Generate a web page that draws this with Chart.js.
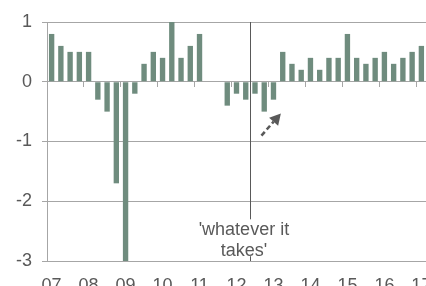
<!DOCTYPE html>
<html><head><meta charset="utf-8">
<script src="https://cdn.jsdelivr.net/npm/chart.js@4/dist/chart.umd.min.js"></script>
<style>
html,body{margin:0;padding:0;overflow:hidden;background:#fff;width:426px;height:286px}
#wrap{position:relative;width:440px;height:286px}
</style>
</head><body>
<div id="wrap"><canvas id="c" width="440" height="286"></canvas></div>
<script>
// ---- data ----
const years = ['07','08','09','10','11','12','13','14','15','16','17'];
const quarterLabels = years.flatMap(y => [y + ' Q1', y + ' Q2', y + ' Q3', y + ' Q4']).slice(0, 41);
const growth = [
  0.8, 0.6, 0.5, 0.5,      // 2007
  0.5, -0.3, -0.5, -1.7,   // 2008
  -3.0, -0.2, 0.3, 0.5,    // 2009
  0.4, 1.0, 0.4, 0.6,      // 2010
  0.8, null, null, -0.4,   // 2011
  -0.2, -0.3, -0.2, -0.5,  // 2012
  -0.3, 0.5, 0.3, 0.2,     // 2013
  0.4, 0.2, 0.4, 0.4,      // 2014
  0.8, 0.4, 0.3, 0.4,      // 2015
  0.5, 0.3, 0.4, 0.5,      // 2016
  0.6                      // 2017
];
const eventIndex = 22;              // 2012 Q3
const annotationText = ["'whatever it", "takes'"];
const annotationX = 20.8;           // category position of text centre
const annotationY = [-2.57, -2.92]; // baselines (value units)
const arrowFrom = [22.7, -0.9];
const arrowTo = [24.8, -0.53];

const TEXT = '#595959';
const GRID = '#a6a6a6';
const FONT = {family: '"Liberation Sans", Arial, sans-serif', size: 18};

const annotationPlugin = {
  id: 'annot',
  afterDatasetsDraw(chart) {
    const ctx = chart.ctx, xs = chart.scales.x, ys = chart.scales.y, area = chart.chartArea;
    const half = (xs.getPixelForValue(1) - xs.getPixelForValue(0)) / 2;
    const lx = Math.round(xs.getPixelForValue(eventIndex) - half) + 0.5;
    ctx.save();
    ctx.strokeStyle = '#595959';
    ctx.lineWidth = 1;
    ctx.beginPath();
    ctx.moveTo(lx, area.top);
    ctx.lineTo(lx, area.bottom);
    ctx.stroke();
    ctx.font = FONT.size + 'px ' + FONT.family;
    const tx = xs.getPixelForValue(annotationX);
    const b1 = ys.getPixelForValue(annotationY[0]);
    const b2 = ys.getPixelForValue(annotationY[1]);
    const w = Math.max(...annotationText.map(t => ctx.measureText(t).width)) + 4;
    ctx.fillStyle = '#fff';
    ctx.fillRect(tx - w / 2, b1 - 16, w, b2 - b1 + 16);
    ctx.fillStyle = TEXT;
    ctx.textAlign = 'center';
    ctx.textBaseline = 'alphabetic';
    ctx.fillText(annotationText[0], tx, b1);
    ctx.fillText(annotationText[1], tx, b2);
    const x0 = xs.getPixelForValue(arrowFrom[0]), y0 = ys.getPixelForValue(arrowFrom[1]);
    const x1 = xs.getPixelForValue(arrowTo[0]), y1 = ys.getPixelForValue(arrowTo[1]);
    const ang = Math.atan2(y1 - y0, x1 - x0);
    const hl = 11, hw = 6;
    const bx = x1 - hl * Math.cos(ang), by = y1 - hl * Math.sin(ang);
    ctx.strokeStyle = '#595959';
    ctx.fillStyle = '#595959';
    ctx.lineWidth = 2.6;
    ctx.setLineDash([5, 3]);
    ctx.beginPath();
    ctx.moveTo(x0, y0);
    ctx.lineTo(bx, by);
    ctx.stroke();
    ctx.setLineDash([]);
    ctx.beginPath();
    ctx.moveTo(x1, y1);
    ctx.lineTo(bx + hw * Math.sin(ang), by - hw * Math.cos(ang));
    ctx.lineTo(bx - hw * Math.sin(ang), by + hw * Math.cos(ang));
    ctx.closePath();
    ctx.fill();
    ctx.restore();
  }
};

const noPad = s => { s.paddingLeft = 0; s.paddingRight = 0; s.paddingTop = 0; s.paddingBottom = 0; };

new Chart(document.getElementById('c'), {
  type: 'bar',
  data: {
    labels: quarterLabels,
    datasets: [{
      data: growth,
      xAxisID: 'x',
      yAxisID: 'y',
      backgroundColor: '#6f8c7e',
      borderWidth: 0,
      barPercentage: 0.58,
      categoryPercentage: 1
    }]
  },
  options: {
    responsive: false,
    animation: false,
    devicePixelRatio: 1,
    layout: {padding: {top: 22, right: 14, left: 0, bottom: 0}},
    plugins: {legend: {display: false}, tooltip: {enabled: false}},
    scales: {
      x: {
        type: 'category',
        position: {y: 0},
        offset: true,
        grid: {
          offset: true,
          drawOnChartArea: false,
          drawTicks: true,
          tickLength: 5,
          lineWidth: 1,
          color: c => (c.index > 0 && c.index % 4 === 0) ? GRID : 'rgba(0,0,0,0)'
        },
        border: {display: false},
        ticks: {display: false, autoSkip: false},
        afterFit: s => { noPad(s); }
      },
      x2: {
        type: 'category',
        axis: 'x',
        position: 'bottom',
        offset: true,
        grid: {display: false, drawTicks: false},
        border: {display: false},
        ticks: {
          autoSkip: false,
          maxRotation: 0,
          padding: 14,
          color: TEXT,
          font: FONT,
          callback: (v, i) => quarterLabels[i].endsWith('Q1') ? quarterLabels[i].slice(0, 2) : ''
        },
        afterFit: s => { s.height = 25; noPad(s); }
      },
      y: {
        min: -3,
        max: 1,
        ticks: {stepSize: 1, padding: 10, color: TEXT, font: FONT},
        grid: {color: GRID, tickLength: 5, drawTicks: true, lineWidth: 1},
        border: {color: GRID},
        afterFit: s => { s.width = 47; noPad(s); }
      }
    }
  },
  plugins: [annotationPlugin]
});
</script>
</body></html>
